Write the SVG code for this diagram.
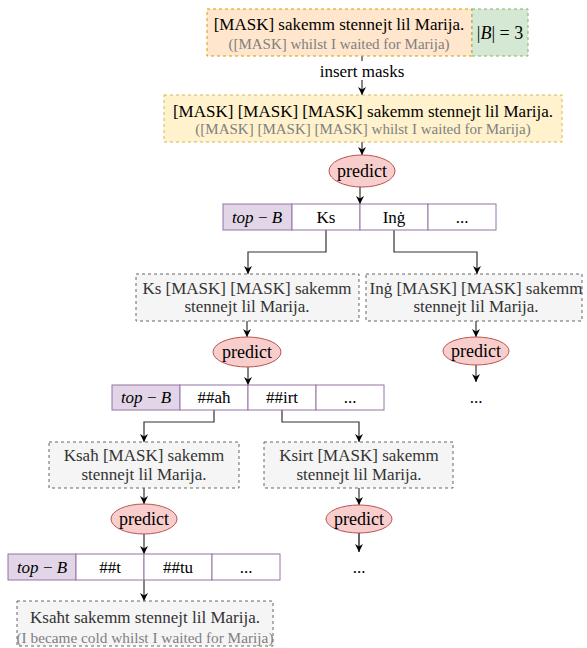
<svg xmlns="http://www.w3.org/2000/svg" width="587" height="648" viewBox="0 0 587 648">
<defs>
<style>
text{font-family:"Liberation Serif","Times New Roman",serif;font-size:17px;text-anchor:middle;dominant-baseline:central;fill:#000}
.sub{font-size:15px;fill:#808080}
.g{fill:#333}
.gs{font-size:15.3px;fill:#808080}
.p{font-size:18px}
.it{font-style:italic}
.up{font-style:normal}
.orange{fill:#ffe6cc;stroke:#d79b00;stroke-dasharray:3 3}
.green{fill:#d5e8d4;stroke:#82b366;stroke-dasharray:3 3}
.yellow{fill:#fff2cc;stroke:#d6b656;stroke-dasharray:3 3}
.grey{fill:#f5f5f5;stroke:#666;stroke-dasharray:3 3}
.pred{fill:#f8cecc;stroke:#b85450}
.cell{fill:#fff;stroke:#9673a6}
.head{fill:#e1d5e7;stroke:#9673a6}
.c{fill:none;stroke:#333;stroke-width:1.2}
</style>
<marker id="arr" viewBox="0 0 10 10" refX="10" refY="5" markerWidth="8" markerHeight="8" markerUnits="userSpaceOnUse" orient="auto">
<path d="M0,0 L10,5 L0,10 L3,5 z" fill="#000"/>
</marker>
</defs>
<rect width="587" height="648" fill="#fff"/>

<g id="connectors">
<line class="c" x1="362" y1="56" x2="362" y2="61"/>
<line class="c" x1="362" y1="80" x2="362" y2="95" marker-end="url(#arr)"/>
<line class="c" x1="362" y1="142" x2="362" y2="155" marker-end="url(#arr)"/>
<line class="c" x1="360" y1="187" x2="360" y2="204" marker-end="url(#arr)"/>
<polyline class="c" points="326,230 326,252 248,252 248,274" marker-end="url(#arr)"/>
<polyline class="c" points="394,230 394,252 477,252 477,274" marker-end="url(#arr)"/>
<line class="c" x1="247" y1="321" x2="247" y2="337" marker-end="url(#arr)"/>
<line class="c" x1="248" y1="367" x2="248" y2="385" marker-end="url(#arr)"/>
<line class="c" x1="476" y1="321" x2="476" y2="337" marker-end="url(#arr)"/>
<line class="c" x1="476" y1="365" x2="476" y2="382" marker-end="url(#arr)"/>
<polyline class="c" points="214,410 214,422 144,422 144,442" marker-end="url(#arr)"/>
<polyline class="c" points="282,410 282,422 359,422 359,442" marker-end="url(#arr)"/>
<line class="c" x1="144" y1="488" x2="144" y2="504" marker-end="url(#arr)"/>
<line class="c" x1="144" y1="534" x2="144" y2="554" marker-end="url(#arr)"/>
<line class="c" x1="359" y1="488" x2="359" y2="505" marker-end="url(#arr)"/>
<line class="c" x1="359" y1="533" x2="359" y2="552" stroke-width="2" style="stroke:#000" marker-end="url(#arr)"/>
<line class="c" x1="144" y1="580" x2="144" y2="601" marker-end="url(#arr)"/>
<text x="362" y="71">insert masks</text>
</g>

<g id="input">
<rect class="orange" x="207" y="9" width="265" height="47"/>
<text x="339" y="24">[MASK] sakemm stennejt lil Marija.</text>
<text class="sub" x="339" y="44">([MASK] whilst I waited for Marija)</text>
</g>
<g id="beam">
<rect class="green" x="472" y="9" width="56" height="47"/>
<text x="500" y="33" style="font-size:18px">|<tspan class="it">B</tspan>| = 3</text>
</g>

<g id="masked">
<rect class="yellow" x="164" y="95" width="398" height="47"/>
<text x="363" y="111">[MASK] [MASK] [MASK] sakemm stennejt lil Marija.</text>
<text class="sub" x="363" y="129">([MASK] [MASK] [MASK] whilst I waited for Marija)</text>
</g>

<g id="predict1">
<ellipse class="pred" cx="362" cy="171" rx="33" ry="16"/>
<text class="p" x="362" y="171">predict</text>
</g>

<g id="topb1">
<rect class="head" x="223" y="204" width="69" height="26"/>
<rect class="cell" x="292" y="204" width="68" height="26"/>
<rect class="cell" x="360" y="204" width="68" height="26"/>
<rect class="cell" x="428" y="204" width="68" height="26"/>
<text class="it" x="257" y="217">top <tspan class="up">−</tspan> B</text>
<text x="326" y="217">Ks</text>
<text x="394" y="217">Inġ</text>
<text x="462" y="217">...</text>
</g>

<g id="ks">
<rect class="grey" x="136" y="274" width="223" height="47"/>
<text class="g" x="247" y="288">Ks [MASK] [MASK] sakemm</text>
<text class="g" x="247" y="306">stennejt lil Marija.</text>
</g>
<g id="ing">
<rect class="grey" x="366" y="274" width="216" height="47"/>
<text class="g" x="476" y="288">Inġ [MASK] [MASK] sakemm</text>
<text class="g" x="476" y="306">stennejt lil Marija.</text>
</g>

<g id="predict2">
<ellipse class="pred" cx="247" cy="352" rx="34" ry="15"/>
<text class="p" x="247" y="352">predict</text>
</g>
<g id="predict3">
<ellipse class="pred" cx="476" cy="351" rx="33" ry="14"/>
<text class="p" x="476" y="351">predict</text>
</g>
<g id="dots1"><text x="476" y="397">...</text></g>

<g id="topb2">
<rect class="head" x="112" y="385" width="68" height="25"/>
<rect class="cell" x="180" y="385" width="68" height="25"/>
<rect class="cell" x="248" y="385" width="68" height="25"/>
<rect class="cell" x="316" y="385" width="68" height="25"/>
<text class="it" x="146" y="397">top <tspan class="up">−</tspan> B</text>
<text x="214" y="397">##aħ</text>
<text x="282" y="397">##irt</text>
<text x="350" y="397">...</text>
</g>

<g id="ksah">
<rect class="grey" x="49" y="442" width="190" height="46"/>
<text class="g" x="144" y="455">Ksaħ [MASK] sakemm</text>
<text class="g" x="144" y="474">stennejt lil Marija.</text>
</g>
<g id="ksirt">
<rect class="grey" x="264" y="442" width="189" height="46"/>
<text class="g" x="359" y="455">Ksirt [MASK] sakemm</text>
<text class="g" x="359" y="474">stennejt lil Marija.</text>
</g>

<g id="predict4">
<ellipse class="pred" cx="144" cy="519" rx="33" ry="15"/>
<text class="p" x="144" y="519">predict</text>
</g>
<g id="predict5">
<ellipse class="pred" cx="359" cy="519" rx="33" ry="14"/>
<text class="p" x="359" y="519">predict</text>
</g>
<g id="dots2"><text x="359" y="567">...</text></g>

<g id="topb3">
<rect class="head" x="8" y="554" width="68" height="26"/>
<rect class="cell" x="76" y="554" width="68" height="26"/>
<rect class="cell" x="144" y="554" width="68" height="26"/>
<rect class="cell" x="212" y="554" width="68" height="26"/>
<text class="it" x="42" y="567">top <tspan class="up">−</tspan> B</text>
<text x="110" y="567">##t</text>
<text x="178" y="567">##tu</text>
<text x="246" y="567">...</text>
</g>

<g id="result">
<rect class="grey" x="17" y="601" width="256" height="45"/>
<text class="g" x="145" y="617">Ksaħt sakemm stennejt lil Marija.</text>
<text class="gs" x="145" y="637">(I became cold whilst I waited for Marija)</text>
</g>
</svg>
